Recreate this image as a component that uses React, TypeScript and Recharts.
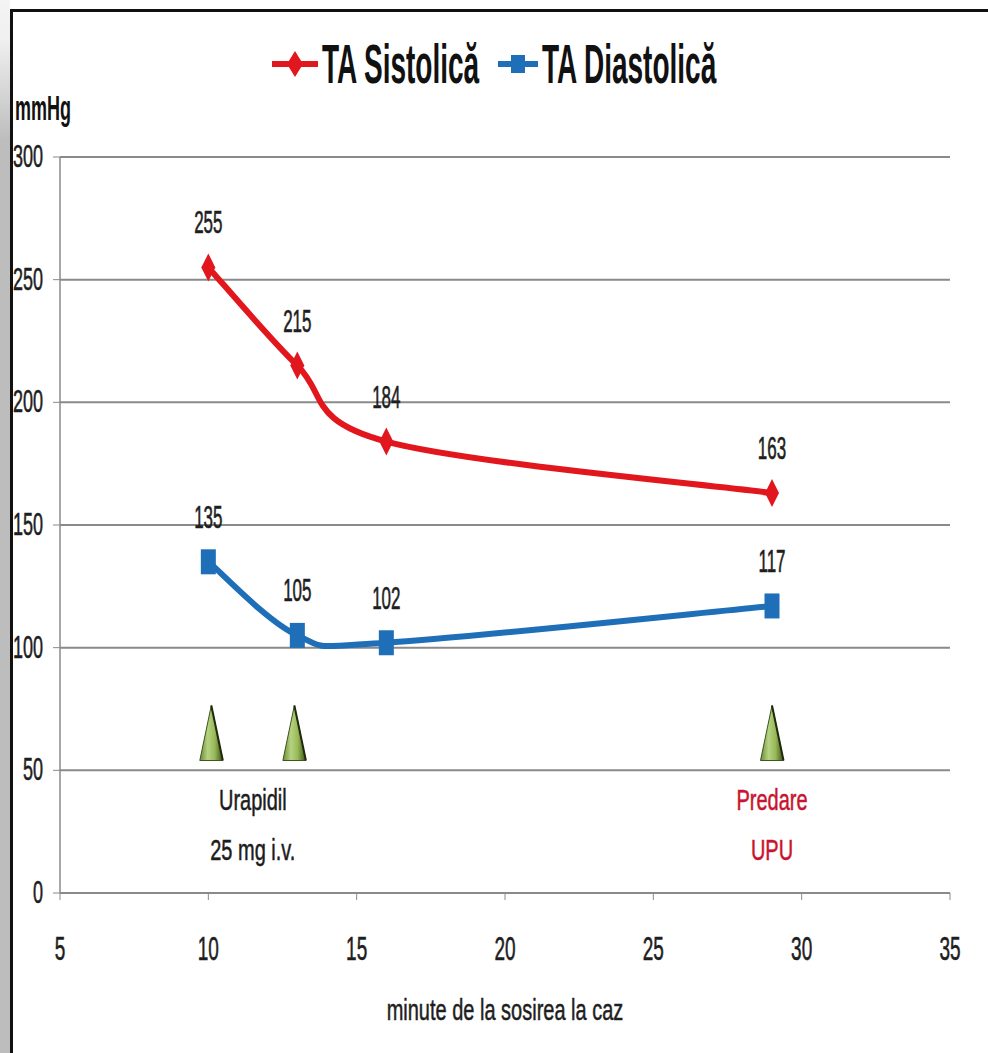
import React from "react";
import {
  LineChart,
  Line,
  XAxis,
  YAxis,
  CartesianGrid,
  Legend,
  LabelList,
  ReferenceDot,
} from "recharts";

// ---- data ----
const minutes = [10, 13, 16, 29];
const sistolica = [255, 215, 184, 163];
const diastolica = [135, 105, 102, 117];
const yTicks = [0, 50, 100, 150, 200, 250, 300];
const xTicks = [5, 10, 15, 20, 25, 30, 35];
const seriesNames = ["TA Sistolică", "TA Diastolică"];
const seriesColors = ["#e2161d", "#1f6fb8"];
const markerMinutes = [10.1, 12.9, 29];
const markerLevel = 54;
const noteMinutes = [11.5, 29];
const noteLine1 = ["Urapidil", "Predare"];
const noteLine2 = ["25 mg i.v.", "UPU"];
const noteColors = ["#1c1c1c", "#c8142e"];
const yUnit = "mmHg";
const xTitle = "minute de la sosirea la caz";

const tableData = minutes.map((t, i) => ({
  t,
  sys: sistolica[i],
  dia: diastolica[i],
}));

const FONT = "'Liberation Sans', Arial, sans-serif";

type STProps = {
  x: number;
  y: number;
  text: string | number;
  size: number;
  sx?: number;
  sy?: number;
  anchor?: "start" | "middle" | "end";
  fill?: string;
  weight?: string | number;
  sw?: number;
};

function STxt({ x, y, text, size, sx = 1, sy = 1.6, anchor = "middle", fill = "#1e1e1e", weight = "normal", sw = 0.35 }: STProps) {
  return (
    <text
      transform={`translate(${x},${y}) scale(${sx},${sy})`}
      x={0}
      y={0}
      textAnchor={anchor}
      fontSize={size}
      fontFamily={FONT}
      fontWeight={weight}
      fill={fill}
      stroke={fill}
      strokeWidth={sw}
    >
      {text}
    </text>
  );
}

// Excel-like smoothed line (Catmull-Rom as Bezier)
const excelCurve = (context: any) => {
  let pts: number[][] = [];
  return {
    areaStart() {},
    areaEnd() {},
    lineStart() {
      pts = [];
    },
    point(x: number, y: number) {
      pts.push([+x, +y]);
    },
    lineEnd() {
      const n = pts.length;
      if (!n) return;
      context.moveTo(pts[0][0], pts[0][1]);
      const t = 1 / 6;
      for (let i = 0; i < n - 1; i++) {
        const p0 = pts[i - 1] || pts[i];
        const p1 = pts[i];
        const p2 = pts[i + 1];
        const p3 = pts[i + 2] || p2;
        context.bezierCurveTo(
          p1[0] + (p2[0] - p0[0]) * t,
          p1[1] + (p2[1] - p0[1]) * t,
          p2[0] - (p3[0] - p1[0]) * t,
          p2[1] - (p3[1] - p1[1]) * t,
          p2[0],
          p2[1]
        );
      }
    },
  };
};

const DiamondDot = (p: any) => {
  const { cx, cy } = p;
  if (cx == null || cy == null) return <g />;
  return (
    <path
      d={`M${cx},${cy - 14} L${cx + 7},${cy} L${cx},${cy + 14} L${cx - 7},${cy} Z`}
      fill={seriesColors[0]}
    />
  );
};

const SquareDot = (p: any) => {
  const { cx, cy } = p;
  if (cx == null || cy == null) return <g />;
  return <rect x={cx - 7.5} y={cy - 12.5} width={15} height={25} fill={seriesColors[1]} />;
};

const valueLabel = (p: any) => {
  const { x, y, value } = p;
  return <STxt x={x} y={y - 34} text={value} size={17} sy={1.9} />;
};

const LegendContent = (props: any) => {
  const payload = [...(props.payload || [])].sort(
    (a: any, b: any) => seriesNames.indexOf(a.value) - seriesNames.indexOf(b.value)
  );
  const starts = [272, 498];
  const iconW = [46, 40];
  return (
    <svg width={988} height={100} style={{ display: "block" }}>
      {payload.map((item: any, i: number) => {
        const k = seriesNames.indexOf(item.value);
        const x0 = starts[i] ?? 272 + i * 226;
        const w = iconW[i] ?? 44;
        const c = item.color;
        const cy = 64;
        return (
          <g key={i}>
            <line x1={x0} x2={x0 + w} y1={cy} y2={cy} stroke={c} strokeWidth={6} />
            {k === 0 ? (
              <path
                d={`M${x0 + w / 2},${cy - 13} L${x0 + w / 2 + 8},${cy} L${x0 + w / 2},${cy + 13} L${x0 + w / 2 - 8},${cy} Z`}
                fill={c}
              />
            ) : (
              <rect x={x0 + w / 2 - 7} y={cy - 9} width={14} height={18} fill={c} />
            )}
            <STxt x={x0 + w + 4} y={83} text={item.value} size={28} sx={1.0} sy={2.0} anchor="start" weight="bold" fill="#111" sw={0} />
          </g>
        );
      })}
    </svg>
  );
};

const Triangle = (idx: number) => (p: any) => {
  const { cx, cy } = p;
  const id = `triGrad${idx}`;
  return (
    <g>
      <defs>
        <linearGradient id={id} x1="0" y1="0" x2="1" y2="0">
          <stop offset="0%" stopColor="#6c8c33" />
          <stop offset="35%" stopColor="#b6d283" />
          <stop offset="65%" stopColor="#98b957" />
          <stop offset="100%" stopColor="#3b5219" />
        </linearGradient>
      </defs>
      <path
        d={`M${cx},${cy - 55} L${cx + 11.5},${cy} L${cx - 11.5},${cy} Z`}
        fill={`url(#${id})`}
        stroke="#3f531f"
        strokeWidth={1}
      />
      <path d={`M${cx},${cy - 55} L${cx + 11.5},${cy}`} stroke="#1f2a0e" strokeWidth={2} />
    </g>
  );
};

const Note = (idx: number) => (p: any) => {
  const { cx, cy } = p;
  return (
    <g>
      <STxt x={cx} y={cy + 40} text={noteLine1[idx]} size={20} sy={1.5} fill={noteColors[idx]} />
      <STxt x={cx} y={cy + 90} text={noteLine2[idx]} size={20} sy={1.5} fill={noteColors[idx]} />
    </g>
  );
};

export default function App() {
  return (
    <div
      style={{
        position: "absolute",
        left: 0,
        top: 0,
        width: 988,
        height: 1053,
        background: "#ffffff",
        overflow: "hidden",
      }}
    >
      <div
        style={{
          position: "absolute",
          left: 0,
          top: 0,
          width: 10,
          height: 1053,
          background: "linear-gradient(#f4f4f4 0px, #f0f0f0 40px, #bdbdbd 140px, #bdbdbd 100%)",
        }}
      />
      <div
        style={{
          position: "absolute",
          left: 10,
          top: 9,
          right: 0,
          bottom: 0,
          borderTop: "3px solid #111",
          borderLeft: "3px solid #111",
        }}
      />
      <div style={{ position: "absolute", left: 0, top: 0 }}>
        <LineChart
          width={988}
          height={1053}
          data={tableData}
          margin={{ top: 57, right: 38, bottom: 20, left: 0 }}
        >
          <CartesianGrid vertical={false} stroke="#8a8a8a" strokeWidth={2} />
          <XAxis
            type="number"
            dataKey="t"
            domain={[5, 35]}
            ticks={xTicks}
            height={140}
            tickSize={7}
            tickMargin={8}
            axisLine={{ stroke: "#8a8a8a", strokeWidth: 2 }}
            tickLine={{ stroke: "#8a8a8a", strokeWidth: 1 }}
            tick={(p: any) => (
              <STxt x={p.x} y={p.y + 52} text={p.payload.value} size={19} sy={1.7} />
            )}
            label={{
              content: (lp: any) => {
                const vb = lp.viewBox || {};
                return (
                  <STxt x={vb.x + vb.width / 2} y={vb.y + 127} text={xTitle} size={20} sy={1.5} />
                );
              },
            }}
          />
          <YAxis
            type="number"
            domain={[0, 300]}
            ticks={yTicks}
            width={60}
            tickSize={7}
            tickMargin={10}
            axisLine={{ stroke: "#8a8a8a", strokeWidth: 1.5 }}
            tickLine={{ stroke: "#8a8a8a", strokeWidth: 1 }}
            tick={(p: any) => (
              <STxt x={p.x} y={p.y + 10} text={p.payload.value} size={18} sy={1.7} anchor="end" />
            )}
            label={{
              content: (lp: any) => {
                const vb = lp.viewBox || {};
                return (
                  <STxt x={15} y={vb.y - 37} text={yUnit} size={18} sy={1.94} anchor="start" weight="bold" fill="#111" sw={0} />
                );
              },
            }}
          />
          <Legend
            verticalAlign="top"
            align="left"
            wrapperStyle={{ top: 0, left: 0, width: 988, height: 100, margin: 0, padding: 0 }}
            content={LegendContent}
          />
          {markerMinutes.map((m, i) => (
            <ReferenceDot key={`tri${i}`} x={m} y={markerLevel} r={0} shape={Triangle(i)} />
          ))}
          {noteMinutes.map((m, i) => (
            <ReferenceDot key={`note${i}`} x={m} y={50} r={0} shape={Note(i)} />
          ))}
          <Line
            dataKey="sys"
            name={seriesNames[0]}
            stroke={seriesColors[0]}
            strokeWidth={6}
            type={excelCurve as any}
            dot={<DiamondDot />}
            activeDot={false}
            isAnimationActive={false}
          >
            <LabelList dataKey="sys" content={valueLabel} />
          </Line>
          <Line
            dataKey="dia"
            name={seriesNames[1]}
            stroke={seriesColors[1]}
            strokeWidth={6}
            type={excelCurve as any}
            dot={<SquareDot />}
            activeDot={false}
            isAnimationActive={false}
          >
            <LabelList dataKey="dia" content={valueLabel} />
          </Line>
        </LineChart>
      </div>
    </div>
  );
}
